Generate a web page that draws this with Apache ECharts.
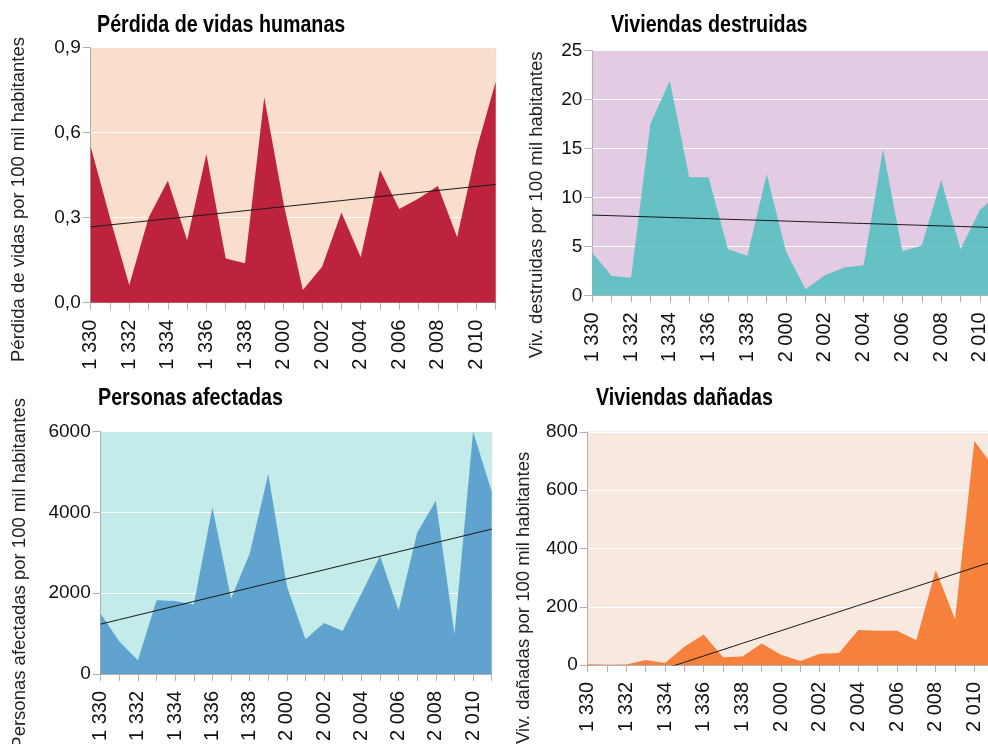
<!DOCTYPE html>
<html><head><meta charset="utf-8">
<script src="https://cdn.jsdelivr.net/npm/echarts@6/dist/echarts.min.js"></script>
<style>html,body{margin:0;padding:0;background:#fff;overflow:hidden;width:988px;height:744px}#c{width:1010px;height:744px}</style>
</head><body><div id="c"></div>
<script>
// Categories (as labelled in the source)
const categories = ['1 330','1 331','1 332','1 333','1 334','1 335','1 336','1 337','1 338','1 339',
  '2 000','2 001','2 002','2 003','2 004','2 005','2 006','2 007','2 008','2 009','2 010','2 011'];

// Series values
const perdidaVidas = [0.55,0.30,0.062,0.30,0.43,0.22,0.525,0.156,0.139,0.724,0.35,0.045,0.127,0.318,0.16,0.468,0.331,0.368,0.412,0.231,0.539,0.78];
const vivDestruidas = [4.36,1.98,1.8,17.57,21.93,12.06,12.06,4.7,4.05,12.4,4.46,0.61,2.04,2.83,3.07,14.95,4.5,5.1,11.8,4.7,8.72,10.5];
const personasAfectadas = [1490,805,338,1828,1804,1723,4123,1868,2980,4953,2174,862,1264,1063,1989,2923,1570,3503,4292,982,6000,4510];
const vivDanadas = [3,1,2,17,7,63,105,27,29,74,35,14,39,41,120,118,118,85,326,157,769,680];

// Titles and axis names
const titles = ['Pérdida de vidas humanas','Viviendas destruidas','Personas afectadas','Viviendas dañadas'];
const axisNames = ['Pérdida de vidas por 100 mil habitantes','Viv. destruidas por 100 mil habitantes',
  'Personas afectadas por 100 mil habitantes','Viv. dañadas por 100 mil habitantes'];

// Least-squares linear trend computed from the data
function linearTrend(vals){
  const n = vals.length;
  let sx=0, sy=0, sxx=0, sxy=0;
  vals.forEach((v,i)=>{sx+=i; sy+=v; sxx+=i*i; sxy+=i*v;});
  const b = (n*sxy - sx*sy)/(n*sxx - sx*sx);
  const a = (sy - b*sx)/n;
  return vals.map((_,i)=>a+b*i);
}

const FONT = 'Liberation Sans, Arial, sans-serif';

const panels = [
  {data: perdidaVidas, grid:{left:90.7, top:47.7, width:405, height:255}, bg:'#F9DECC', area:'#B81430',
   min:0, max:0.9, interval:0.3, fmt:v=>v.toFixed(1).replace('.',','),
   title:{x:97, y:25.5}, name:{x:19, y:37}},
  {data: vivDestruidas, grid:{left:592.3, top:50.7, width:407, height:244.6}, bg:'#E3CCE3', area:'#5CBFC2',
   min:0, max:25, interval:5, fmt:v=>String(v),
   title:{x:611, y:25.5}, name:{x:536.5, y:51.5}},
  {data: personasAfectadas, grid:{left:100.7, top:431.7, width:391, height:248.3}, bg:'#C2EBEA', area:'#579DCB',
   min:0, max:6000, interval:2000, fmt:v=>String(v),
   title:{x:98, y:398.7}, name:{x:19.5, y:398}},
  {data: vivDanadas, grid:{left:587.7, top:432, width:406, height:233}, bg:'#F7E8E0', area:'#F47830',
   min:0, max:800, interval:200, fmt:v=>String(v),
   title:{x:596, y:398.7}, name:{x:524.3, y:451.7}}
];

const option = {
  animation:false,
  backgroundColor:'#fff',
  grid:[], xAxis:[], yAxis:[], series:[], graphic:[]
};

panels.forEach((p,k)=>{
  option.grid.push(Object.assign({show:true, backgroundColor:p.bg, borderColor:'#dedede', borderWidth:1, containLabel:false}, p.grid));
  option.xAxis.push({type:'category', gridIndex:k, data:categories, boundaryGap:false,
    axisLine:{show:true, lineStyle:{color:'#b0b0b0', width:1}},
    axisTick:{show:true, interval:0, length:7, lineStyle:{color:'#b0b0b0'}},
    axisLabel:{interval:1, rotate:90, margin:17, fontSize:20, fontFamily:FONT, color:'#111'},
    splitLine:{show:false}});
  option.yAxis.push({type:'value', gridIndex:k, min:p.min, max:p.max, interval:p.interval,
    axisLine:{show:true, lineStyle:{color:'#b0b0b0', width:1}},
    axisTick:{show:true, length:8, lineStyle:{color:'#b0b0b0'}},
    axisLabel:{margin:10, fontSize:19, fontFamily:FONT, color:'#111', formatter:p.fmt},
    splitLine:{show:true, lineStyle:{color:'#ffffff', width:1.2}}});
  option.series.push({type:'line', xAxisIndex:k, yAxisIndex:k, data:p.data, symbol:'none',
    lineStyle:{width:0}, itemStyle:{color:p.area}, areaStyle:{color:p.area, opacity:0.93}, z:2, silent:true});
  option.series.push({type:'line', xAxisIndex:k, yAxisIndex:k, data:linearTrend(p.data), symbol:'none',
    lineStyle:{color:'#1a1a1a', width:1}, z:3, silent:true, clip:true});
  option.graphic.push({type:'text', x:p.name.x, y:p.name.y, rotation:Math.PI/2,
    style:{text:axisNames[k], fontSize:18.5, fontFamily:FONT, fill:'#222', align:'right', verticalAlign:'middle'}});
  option.graphic.push({type:'text', x:p.title.x, y:p.title.y, scaleX:0.82, scaleY:1,
    style:{text:titles[k], fontSize:24, fontWeight:'bold', fontFamily:FONT, fill:'#000', align:'left', verticalAlign:'middle'}});
});

const chart = echarts.init(document.getElementById('c'), null, {renderer:'canvas'});
chart.setOption(option);
</script>
</body></html>
